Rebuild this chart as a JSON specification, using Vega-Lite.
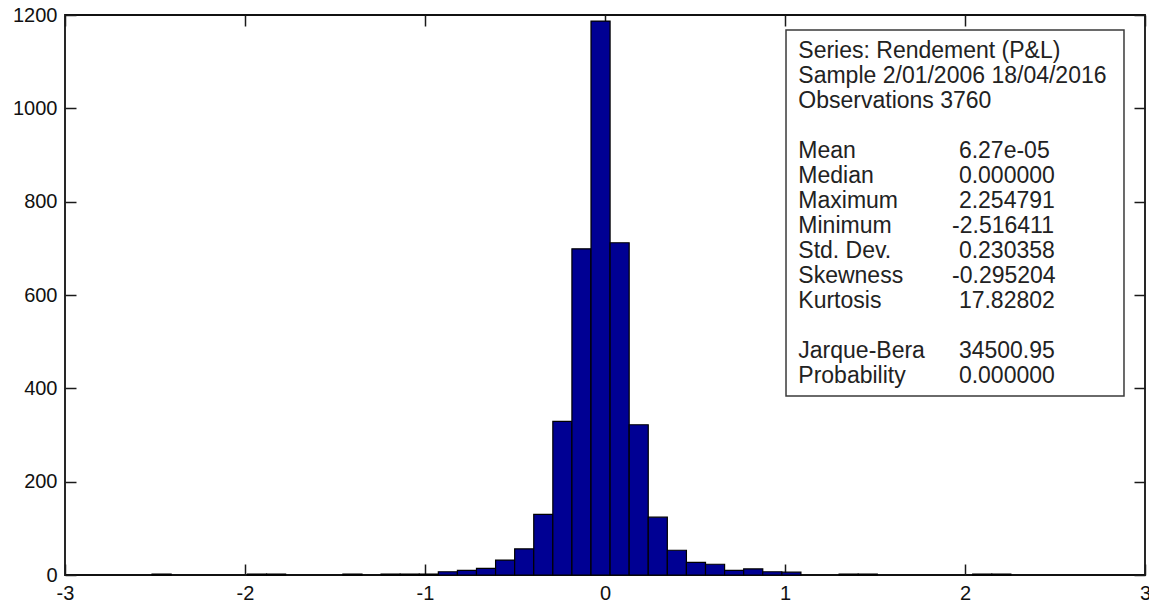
{
  "$schema": "https://vega.github.io/schema/vega-lite/v6.json",
  "width": 1080,
  "height": 560,
  "autosize": {"type": "none"},
  "padding": {"left": 65, "top": 15, "right": 4, "bottom": 26},
  "background": "white",
  "config": {
    "view": {"stroke": "#111111", "strokeWidth": 1.8},
    "axis": {
      "grid": false,
      "domain": false,
      "tickColor": "#1a1a1a",
      "tickWidth": 1.5,
      "tickSize": -11,
      "labelFont": "Liberation Sans",
      "labelFontSize": 20,
      "labelColor": "#111111",
      "title": null,
      "labelFlush": false,
      "labelOverlap": false,
      "labelBound": false
    }
  },
  "datasets": {
    "bins": [
      {"bin_start": -2.516411, "bin_end": -2.410384, "count": 2},
      {"bin_start": -1.986276, "bin_end": -1.880249, "count": 2},
      {"bin_start": -1.880249, "bin_end": -1.774222, "count": 2},
      {"bin_start": -1.456141, "bin_end": -1.350114, "count": 2},
      {"bin_start": -1.244087, "bin_end": -1.138060, "count": 2},
      {"bin_start": -1.138060, "bin_end": -1.032033, "count": 2},
      {"bin_start": -1.032033, "bin_end": -0.926006, "count": 2},
      {"bin_start": -0.926006, "bin_end": -0.819979, "count": 7},
      {"bin_start": -0.819979, "bin_end": -0.713952, "count": 10},
      {"bin_start": -0.713952, "bin_end": -0.607925, "count": 14},
      {"bin_start": -0.607925, "bin_end": -0.501898, "count": 32},
      {"bin_start": -0.501898, "bin_end": -0.395871, "count": 56},
      {"bin_start": -0.395871, "bin_end": -0.289844, "count": 130},
      {"bin_start": -0.289844, "bin_end": -0.183817, "count": 329},
      {"bin_start": -0.183817, "bin_end": -0.077790, "count": 699},
      {"bin_start": -0.077790, "bin_end": 0.028237, "count": 1187},
      {"bin_start": 0.028237, "bin_end": 0.134264, "count": 712},
      {"bin_start": 0.134264, "bin_end": 0.240291, "count": 322},
      {"bin_start": 0.240291, "bin_end": 0.346318, "count": 124},
      {"bin_start": 0.346318, "bin_end": 0.452345, "count": 53},
      {"bin_start": 0.452345, "bin_end": 0.558372, "count": 27},
      {"bin_start": 0.558372, "bin_end": 0.664399, "count": 23},
      {"bin_start": 0.664399, "bin_end": 0.770426, "count": 10},
      {"bin_start": 0.770426, "bin_end": 0.876453, "count": 13},
      {"bin_start": 0.876453, "bin_end": 0.982480, "count": 7},
      {"bin_start": 0.982480, "bin_end": 1.088507, "count": 6},
      {"bin_start": 1.300561, "bin_end": 1.406588, "count": 2},
      {"bin_start": 1.406588, "bin_end": 1.512615, "count": 2},
      {"bin_start": 2.042750, "bin_end": 2.148777, "count": 2},
      {"bin_start": 2.148777, "bin_end": 2.254804, "count": 2}
    ],
    "stats": [
      {"line": 1, "label": "Series: Rendement (P&L)", "value": ""},
      {"line": 2, "label": "Sample 2/01/2006 18/04/2016", "value": ""},
      {"line": 3, "label": "Observations 3760", "value": ""},
      {"line": 5, "label": "Mean", "value": "6.27e-05"},
      {"line": 6, "label": "Median", "value": "0.000000"},
      {"line": 7, "label": "Maximum", "value": "2.254791"},
      {"line": 8, "label": "Minimum", "value": "-2.516411"},
      {"line": 9, "label": "Std. Dev.", "value": "0.230358"},
      {"line": 10, "label": "Skewness", "value": "-0.295204"},
      {"line": 11, "label": "Kurtosis", "value": "17.82802"},
      {"line": 13, "label": "Jarque-Bera", "value": "34500.95"},
      {"line": 14, "label": "Probability", "value": "0.000000"}
    ]
  },
  "layer": [
    {
      "data": {"name": "bins"},
      "mark": {"type": "bar", "fill": "#000093", "stroke": "#000000", "strokeWidth": 1.2},
      "encoding": {
        "x": {
          "field": "bin_start",
          "type": "quantitative",
          "scale": {"domain": [-3, 3], "nice": false, "zero": false},
          "axis": {"orient": "bottom", "values": [-3, -2, -1, 0, 1, 2, 3], "labelPadding": 19, "labelExpr": "toString(datum.value)"}
        },
        "x2": {"field": "bin_end"},
        "y": {
          "field": "count",
          "type": "quantitative",
          "scale": {"domain": [0, 1200], "nice": false},
          "axis": {"orient": "left", "values": [0, 200, 400, 600, 800, 1000, 1200], "labelPadding": 19, "labelExpr": "toString(datum.value)"}
        },
        "y2": {"datum": 0}
      }
    },
    {
      "data": {"name": "bins"},
      "mark": {"type": "point", "opacity": 0},
      "encoding": {
        "x": {
          "field": "bin_start",
          "type": "quantitative",
          "scale": {"domain": [-3, 3], "nice": false, "zero": false},
          "axis": {"orient": "top", "values": [-3, -2, -1, 0, 1, 2, 3], "labels": false}
        },
        "y": {
          "field": "count",
          "type": "quantitative",
          "scale": {"domain": [0, 1200], "nice": false},
          "axis": {"orient": "right", "values": [0, 200, 400, 600, 800, 1000, 1200], "labels": false}
        }
      }
    },
    {
      "data": {"values": [{}]},
      "mark": {"type": "rect", "fill": "white", "stroke": "#3a3a3a", "strokeWidth": 1.5},
      "encoding": {
        "x": {"datum": 1.0056, "type": "quantitative", "axis": null},
        "x2": {"datum": 2.8833},
        "y": {"datum": 1167.9, "type": "quantitative", "scale": {"domain": [0, 1200], "nice": false}, "axis": null},
        "y2": {"datum": 383.6}
      }
    },
    {
      "data": {"name": "stats"},
      "mark": {"type": "text", "align": "left", "baseline": "alphabetic", "font": "Liberation Sans", "fontSize": 23, "color": "#222222"},
      "encoding": {
        "x": {"datum": 1.074, "type": "quantitative", "axis": null},
        "y": {"field": "line", "type": "quantitative", "scale": {"domain": [-0.732, 21.668], "reverse": true, "nice": false, "zero": false}, "axis": null},
        "text": {"field": "label"}
      }
    },
    {
      "data": {"name": "stats"},
      "transform": [{"filter": "datum.value != '' && indexof(datum.value, '-') != 0"}],
      "mark": {"type": "text", "align": "left", "baseline": "alphabetic", "font": "Liberation Sans", "fontSize": 23, "color": "#222222"},
      "encoding": {
        "x": {"datum": 1.966, "type": "quantitative", "axis": null},
        "y": {"field": "line", "type": "quantitative", "scale": {"domain": [-0.732, 21.668], "reverse": true, "nice": false, "zero": false}, "axis": null},
        "text": {"field": "value"}
      }
    },
    {
      "data": {"name": "stats"},
      "transform": [{"filter": "indexof(datum.value, '-') == 0"}],
      "mark": {"type": "text", "align": "left", "baseline": "alphabetic", "font": "Liberation Sans", "fontSize": 23, "color": "#222222"},
      "encoding": {
        "x": {"datum": 1.928, "type": "quantitative", "axis": null},
        "y": {"field": "line", "type": "quantitative", "scale": {"domain": [-0.732, 21.668], "reverse": true, "nice": false, "zero": false}, "axis": null},
        "text": {"field": "value"}
      }
    }
  ],
  "resolve": {
    "scale": {"y": "independent"},
    "axis": {"x": "independent", "y": "independent"}
  }
}
